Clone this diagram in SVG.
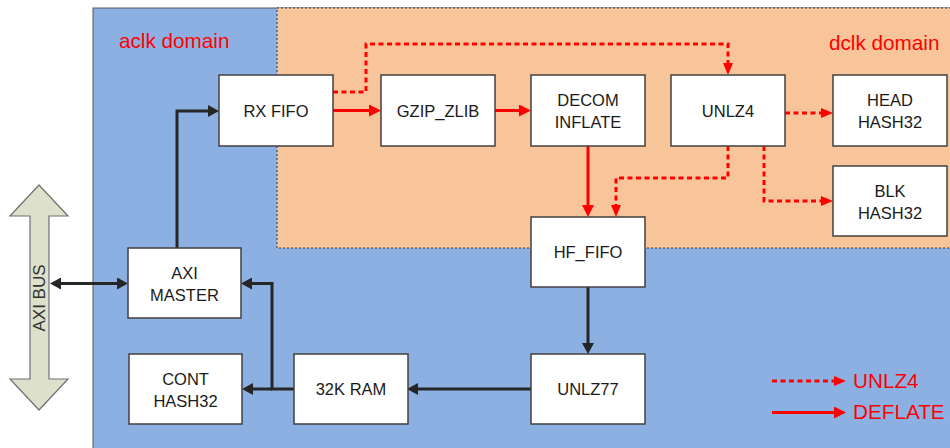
<svg xmlns="http://www.w3.org/2000/svg" width="950" height="448" viewBox="0 0 950 448">
<defs>
<style>
.node rect{fill:#fff;stroke:#404040;stroke-width:1.5}
.node text{font-family:"Liberation Sans",Arial,sans-serif;font-size:16.5px;fill:#1a1a1a;text-anchor:middle}
.blk{fill:none;stroke:#262626;stroke-width:3}
.red{fill:none;stroke:#ff0000;stroke-width:3}
.dash{fill:none;stroke:#ff0000;stroke-width:3;stroke-dasharray:5 3.5}
.lbl{font-family:"Liberation Sans",Arial,sans-serif;font-size:20.7px;fill:#ff0000}
</style>
<marker id="ab" markerUnits="userSpaceOnUse" markerWidth="11" markerHeight="12" refX="5" refY="6" orient="auto-start-reverse"><path d="M0,0 L11,6 L0,12 z" fill="#262626"/></marker>
<marker id="ar" markerUnits="userSpaceOnUse" markerWidth="12" markerHeight="12" refX="6" refY="6" orient="auto"><path d="M0,0 L12,6 L0,12 z" fill="#ff0000"/></marker>
<marker id="ad" markerUnits="userSpaceOnUse" markerWidth="12" markerHeight="10" refX="6" refY="5" orient="auto"><path d="M0,0 L12,5 L0,10 z" fill="#ff0000"/></marker>
</defs>
<g id="background">
<rect x="93" y="8" width="860" height="445" fill="#8db0e3" stroke="#555" stroke-width="1"/>
<rect x="277" y="8" width="680" height="240" fill="#f8c59b" stroke="#333" stroke-width="1" stroke-dasharray="2 2"/>
<text class="lbl" x="119" y="48">aclk domain</text>
<text class="lbl" x="829" y="50">dclk domain</text>
</g>
<g id="axi-bus">
<polygon points="39,185 68,216 49,216 49,379 68,379 39,410 10,379 30,379 30,216 10,216" fill="#dde1cc" stroke="#707070" stroke-width="1.2"/>
<text transform="translate(44.5,298) rotate(-90)" font-family="Liberation Sans,Arial,sans-serif" font-size="17" fill="#333" text-anchor="middle">AXI BUS</text>
</g>
<g id="connectors">
<path class="blk" d="M177,248 V111 H213" marker-end="url(#ab)"/>
<path class="red" d="M333,110.5 H375" marker-end="url(#ar)"/>
<path class="red" d="M495,110.5 H525" marker-end="url(#ar)"/>
<path class="dash" d="M333,92 H366 V44 H728 V69" marker-end="url(#ad)"/>
<path class="dash" d="M785,113 H827" marker-end="url(#ad)"/>
<path class="red" d="M588,146 V211" marker-end="url(#ar)"/>
<path class="dash" d="M728,146 V178 H616 V211" marker-end="url(#ad)"/>
<path class="dash" d="M764,146 V201 H827" marker-end="url(#ad)"/>
<path class="blk" d="M588,287 V348" marker-end="url(#ab)"/>
<path class="blk" d="M531,389 H413" marker-end="url(#ab)"/>
<path class="blk" d="M294,389 H272 V283.5 H247" marker-end="url(#ab)"/>
<path class="blk" d="M272,389 H248" marker-end="url(#ab)"/>
<path class="blk" d="M56,283.5 H122" marker-start="url(#ab)" marker-end="url(#ab)"/>
</g>
<g id="rx-fifo" class="node"><rect x="219" y="75" width="114" height="71"/><text x="276" y="117">RX FIFO</text></g>
<g id="gzip-zlib" class="node"><rect x="381" y="75" width="114" height="71"/><text x="438" y="117">GZIP_ZLIB</text></g>
<g id="decom-inflate" class="node"><rect x="531" y="75" width="114" height="71"/><text x="588" y="106">DECOM</text><text x="588" y="127.5">INFLATE</text></g>
<g id="unlz4" class="node"><rect x="671" y="75" width="114" height="71"/><text x="728" y="117">UNLZ4</text></g>
<g id="head-hash32" class="node"><rect x="833" y="75" width="114" height="71"/><text x="890" y="106">HEAD</text><text x="890" y="127.5">HASH32</text></g>
<g id="blk-hash32" class="node"><rect x="833" y="166" width="114" height="70"/><text x="890" y="197">BLK</text><text x="890" y="218.5">HASH32</text></g>
<g id="hf-fifo" class="node"><rect x="531" y="217" width="114" height="70"/><text x="588" y="258">HF_FIFO</text></g>
<g id="axi-master" class="node"><rect x="128" y="248" width="113" height="70"/><text x="184.5" y="279">AXI</text><text x="184.5" y="300.5">MASTER</text></g>
<g id="cont-hash32" class="node"><rect x="129" y="354" width="113" height="70"/><text x="185.5" y="385">CONT</text><text x="185.5" y="406.5">HASH32</text></g>
<g id="ram32k" class="node"><rect x="294" y="354" width="114" height="70"/><text x="351" y="395">32K RAM</text></g>
<g id="unlz77" class="node"><rect x="531" y="354" width="114" height="70"/><text x="588" y="395">UNLZ77</text></g>
<g id="legend">
<path class="dash" d="M772,381 H840" marker-end="url(#ad)"/>
<path class="red" d="M772,412.5 H840" marker-end="url(#ar)"/>
<text class="lbl" x="853" y="388">UNLZ4</text>
<text class="lbl" x="853" y="419">DEFLATE</text>
</g>
</svg>
